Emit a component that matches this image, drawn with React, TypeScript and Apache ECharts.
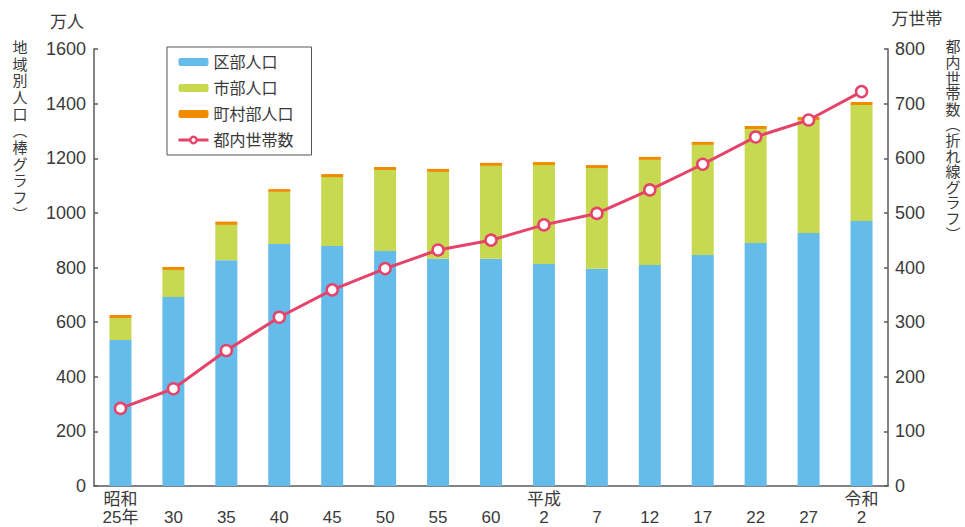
import React, { useEffect, useRef } from "react";
import * as echarts from "echarts";

const categories = ["昭和\n25年", "\n30", "\n35", "\n40", "\n45", "\n50", "\n55", "\n60", "平成\n2", "\n7", "\n12", "\n17", "\n22", "\n27", "令和\n2"];
const wardPop = [535, 692, 827, 886, 879, 860, 832, 832, 813, 795, 809, 846, 890, 926, 970];
const cityPop = [80, 99, 129, 191, 252, 297, 318, 340, 362, 369, 385, 403, 417, 414, 425];
const townPop = [11, 11, 12, 10, 11, 11, 11, 11, 11, 11, 11, 11, 11, 11, 11];
const households = [142, 178, 248, 309, 359, 398, 432, 450, 478, 499, 542, 589, 639, 670, 722];

const leftTitle = "地域別人口︵棒グラフ︶";
const rightTitle = "都内世帯数︵折れ線グラフ︶";

const FONT = "'Liberation Sans', 'Noto Sans CJK JP', sans-serif";
const CJK = "'Noto Sans CJK JP', sans-serif";
const TXT = "#3a3a3a";
const AXIS = "#5a5a5a";

export default function App() {
  const ref = useRef<HTMLDivElement>(null);
  useEffect(() => {
    document.body.style.margin = "0";
    const chart = echarts.init(ref.current!, null, { renderer: "svg" });
    chart.setOption({
      animation: false,
      textStyle: { fontFamily: FONT },
      grid: { left: 94, right: 77, top: 49, bottom: 41 },
      legend: {
        orient: "vertical",
        left: 167,
        top: 47,
        padding: [6, 18, 6, 10],
        borderColor: "#555",
        borderWidth: 1,
        itemWidth: 30,
        itemHeight: 8,
        itemGap: 8,
        textStyle: { fontSize: 16, lineHeight: 18, color: TXT, fontFamily: FONT },
        data: [
          "区部人口",
          "市部人口",
          "町村部人口",
          { name: "都内世帯数", itemHeight: 11, lineStyle: { width: 3 }, itemStyle: { borderWidth: 2.5 } },
        ],
      },
      xAxis: {
        type: "category",
        data: categories,
        axisLine: { lineStyle: { color: AXIS, width: 1.5 } },
        axisTick: { show: false },
        axisLabel: { interval: 0, fontSize: 17, lineHeight: 18, margin: 4, color: TXT, fontFamily: FONT },
      },
      yAxis: [
        {
          type: "value",
          min: 0,
          max: 1600,
          interval: 200,
          position: "left",
          splitLine: { show: false },
          axisLine: { show: true, lineStyle: { color: AXIS, width: 1.5 } },
          axisTick: { show: true, inside: true, length: 4, lineStyle: { color: AXIS, width: 1.5 } },
          axisLabel: { fontSize: 18, margin: 8, color: TXT, fontFamily: FONT, formatter: (v: number) => String(v) },
        },
        {
          type: "value",
          min: 0,
          max: 800,
          interval: 100,
          position: "right",
          splitLine: { show: false },
          axisLine: { show: true, lineStyle: { color: AXIS, width: 1.5 } },
          axisTick: { show: true, inside: true, length: 4, lineStyle: { color: AXIS, width: 1.5 } },
          axisLabel: { fontSize: 18, margin: 7, color: TXT, fontFamily: FONT, formatter: (v: number) => String(v) },
        },
      ],
      series: [
        { name: "区部人口", type: "bar", stack: "pop", barWidth: 22, data: wardPop, itemStyle: { color: "#65bbea" } },
        { name: "市部人口", type: "bar", stack: "pop", barWidth: 22, data: cityPop, itemStyle: { color: "#c6d951" } },
        { name: "町村部人口", type: "bar", stack: "pop", barWidth: 22, data: townPop, itemStyle: { color: "#f08b00" } },
        {
          name: "都内世帯数",
          type: "line",
          yAxisIndex: 1,
          data: households,
          symbol: "circle",
          symbolSize: 11,
          lineStyle: { color: "#e6436b", width: 3 },
          itemStyle: { color: "#ffffff", borderColor: "#e6436b", borderWidth: 2.5 },
          z: 5,
        },
      ],
      graphic: [
        { type: "text", x: 67, y: 20, style: { text: "万人", fill: TXT, font: `17px ${CJK}`, align: "center", verticalAlign: "middle" } },
        { type: "text", x: 917, y: 17, style: { text: "万世帯", fill: TXT, font: `17px ${CJK}`, align: "center", verticalAlign: "middle" } },
        { type: "text", x: 20, y: 38, style: { text: leftTitle.split("").join("\n"), font: `15px ${CJK}`, lineHeight: 16.7, fill: TXT, align: "center", verticalAlign: "top" } },
        { type: "text", x: 953, y: 38, style: { text: rightTitle.split("").join("\n"), font: `15px ${CJK}`, lineHeight: 15.6, fill: TXT, align: "center", verticalAlign: "top" } },
      ],
    });
    return () => chart.dispose();
  }, []);
  return <div ref={ref} style={{ width: 965, height: 527 }} />;
}
